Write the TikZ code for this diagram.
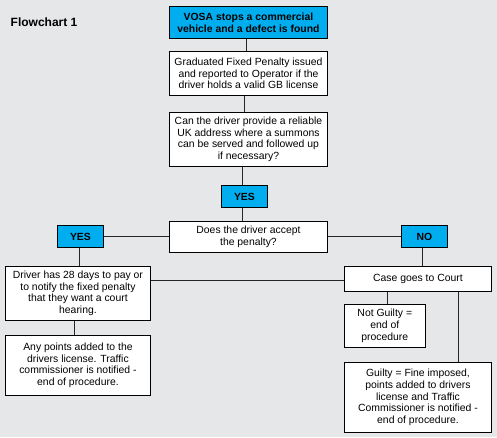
\documentclass[tikz,border=0pt]{standalone}
\usepackage{fontspec}
\setmainfont{Liberation Sans}
\usetikzlibrary{calc}
\definecolor{bg}{HTML}{E6E7E9}
\definecolor{cy}{HTML}{00AEEF}
\tikzset{
  x=1pt,y=-1pt,
  box/.style={draw=black,line width=0.9pt,fill=white,anchor=north west,inner sep=0.5pt,align=center,
    font=\fontsize{10.4}{11.7}\selectfont},
  cbox/.style={box,fill=cy,font=\fontsize{10.4}{11.7}\selectfont\bfseries},
  link/.style={draw=black!85,line width=1pt}
}
\begin{document}
\begin{tikzpicture}
\fill[bg] (0,0) rectangle (497,437);
\useasboundingbox (0,0) rectangle (497,437);
\node[anchor=west,inner sep=0pt,font=\fontsize{12}{14}\selectfont\bfseries] (title) at (10.5,22.5) {Flowchart 1};
\node[cbox,minimum width=158,minimum height=32] (vosa) at (169,6) {VOSA stops a commercial\\vehicle and a defect is found};
\node[box,minimum width=158,minimum height=44] (grad) at (169,51) {Graduated Fixed Penalty issued\\and reported to Operator if the\\driver holds a valid GB license};
\node[box,minimum width=158,minimum height=54] (can) at (169,112) {Can the driver provide a reliable\\UK address where a summons\\can be served and followed up\\if necessary?};
\node[cbox,minimum width=46,minimum height=22] (yes1) at (221,185) {YES};
\node[box,minimum width=158,minimum height=31.6] (does) at (169,220.7) {Does the driver accept\\the penalty?};
\node[cbox,minimum width=46,minimum height=22] (yes2) at (57,225) {YES};
\node[cbox,minimum width=46,minimum height=22] (no) at (401,225) {NO};
\node[box,minimum width=145,minimum height=54] (drv) at (5,266) {Driver has 28 days to pay or\\to notify the fixed penalty\\that they want a court\\hearing.};
\node[box,minimum width=147,minimum height=25] (case) at (344,266) {Case goes to Court};
\node[box,minimum width=80.7,minimum height=43] (ng) at (344,304) {Not Guilty =\\end of\\procedure};
\node[box,minimum width=145,minimum height=60] (any) at (5,335) {Any points added to the\\drivers license. Traffic\\commissioner is notified -\\end of procedure.};
\node[box,minimum width=147,minimum height=70] (gui) at (344,362) {Guilty = Fine imposed,\\points added to drivers\\license and Traffic\\Commissioner is notified -\\end of procedure.};
% connectors
\draw[link] ($(vosa.south)+(-2.4,0)$) -- ($(grad.north)+(-2.4,0)$);
\draw[link] ($(grad.south)+(-4.3,0)$) -- ($(can.north)+(-4.3,0)$);
\draw[link] ($(can.south)+(-5.7,0)$) -- ($(yes1.north)+(-1.7,0)$);
\draw[link] ($(yes1.south)+(-2,0)$) -- ($(does.north)+(-6,0)$);
\draw[link] (yes2.east) -- (yes2.east -| does.west);
\draw[link] (does.east) -- (does.east -| no.west);
\draw[link] ($(yes2.south)+(-1.3,0)$) -- ($(yes2.south |- drv.north)+(-1.3,0)$);
\draw[link] ($(no.south)+(-2.3,0)$) -- ($(no.south |- case.north)+(-2.3,0)$);
\draw[link] ($(case.west)+(0,1.5)$) -- ($(case.west -| drv.east)+(0,1.5)$);
\draw[link] ($(ng.north)+(2.4,0)$) -- ($(ng.north |- case.south)+(2.4,0)$);
\draw[link] ($(gui.north)+(40.5,0)$) -- ($(gui.north |- case.south)+(40.5,0)$);
\draw[link] ($(drv.south)+(-3.5,0)$) -- ($(any.north)+(-3.5,0)$);
\end{tikzpicture}
\end{document}
